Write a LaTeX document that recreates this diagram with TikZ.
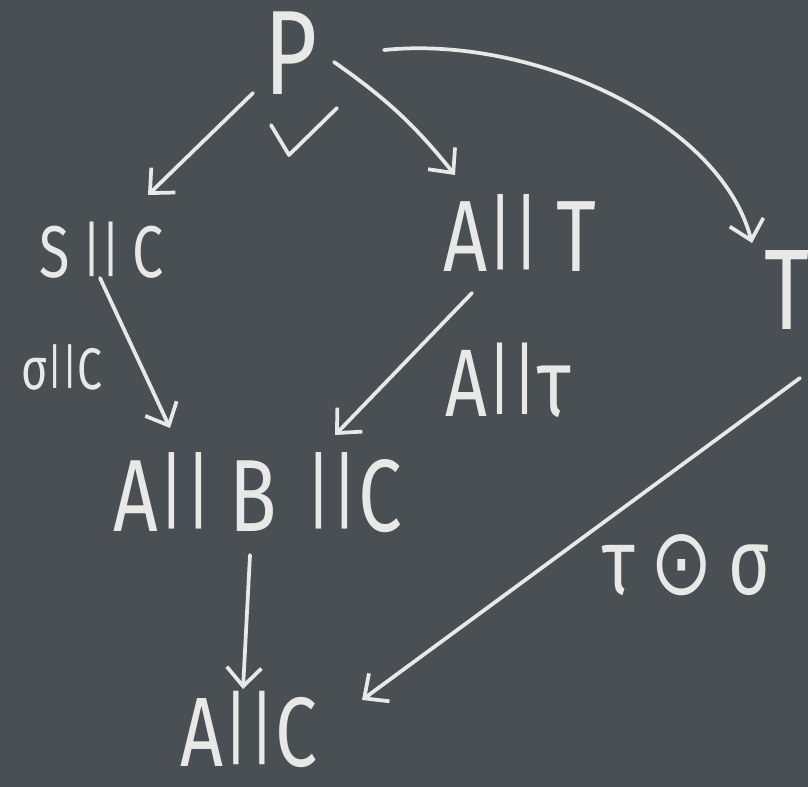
\documentclass[tikz,border=0pt]{standalone}
\usepackage{fontspec}
\usepackage{graphicx}
\setmainfont[FakeStretch=0.76]{Fira Sans}
\newfontfamily\symfont[FakeStretch=0.8]{DejaVu Sans}
\usetikzlibrary{arrows.meta}
\definecolor{board}{RGB}{73,79,82}
\definecolor{chalk}{RGB}{232,233,231}
\newcommand\chalksize[1]{\fontsize{#1}{#1}\selectfont}
% a parallel bar standing on the baseline, as tall as a capital
\newcommand\pb{\raisebox{0.1em}{\scalebox{0.85}[0.82]{|}}}

\begin{document}
\begin{tikzpicture}[x=0.75pt,y=-0.75pt,
  lbl/.style={text=chalk, inner sep=0pt, text depth=0pt, anchor=center},
  chalkline/.style={draw=chalk, line width=2.8pt, line cap=round, line join=round},
  arr/.style={chalkline, -{Straight Barb[length=14pt,width=26pt,line width=2.8pt]}}]

% the board
\fill[board] (0,0) rectangle (808,787);
\useasboundingbox (0,0) rectangle (808,787);

% terms
\node[lbl, font=\chalksize{90}] (p)   at (291,53)  {P};
\node[lbl, font=\chalksize{55}] (sc)  at (102,250) {S\,\pb\pb\,C};
\node[lbl, font=\chalksize{76}] (at)  at (520,233) {A\pb\pb\,T};
\node[lbl, font=\chalksize{86}] (t)   at (787,290) {T};
\node[lbl, font=\chalksize{77}] (abc) at (258,492) {A\pb\pb\,B\;\pb\pb C};
\node[lbl, font=\chalksize{74}] (ac)  at (249,729) {A\pb\pb C};

% arrow labels
\node[lbl, font=\chalksize{44}] (lsc) at (62,367)  {σ\pb\pb C};
\node[lbl, font=\chalksize{72}] (lat) at (508,380) {A\pb\pb τ};
\node[lbl, font=\chalksize{70}] (lt)  at (686,565) {τ\,{\symfont ⊙}\,σ};

% tick under P
\draw[chalkline] ([shift={(-20,72)}]p.center) -- ([shift={(-2,102)}]p.center) -- ([shift={(46,55)}]p.center);

% arrows
\draw[arr] ([shift={(-38,40)}]p.center) -- ([shift={(46,-55)}]sc.center);
\draw[arr] ([shift={(43,9)}]p.center) to[bend left=8] ([shift={(-65,-58)}]at.center);
\draw[arr] ([shift={(93,-3)}]p.center) .. controls +(147,-15) and +(-32,-123) .. ([shift={(-35,-47)}]t.center);
\draw[arr] ([shift={(-2,28)}]sc.center) -- ([shift={(-88,-64)}]abc.center);
\draw[arr] ([shift={(-48,60)}]at.center) -- ([shift={(77,-57)}]abc.center);
\draw[arr] ([shift={(-8,63)}]abc.center) -- ([shift={(-6,-40)}]ac.center);
\draw[arr] ([shift={(13,88)}]t.center) -- ([shift={(113,-29)}]ac.center);
\end{tikzpicture}
\end{document}
